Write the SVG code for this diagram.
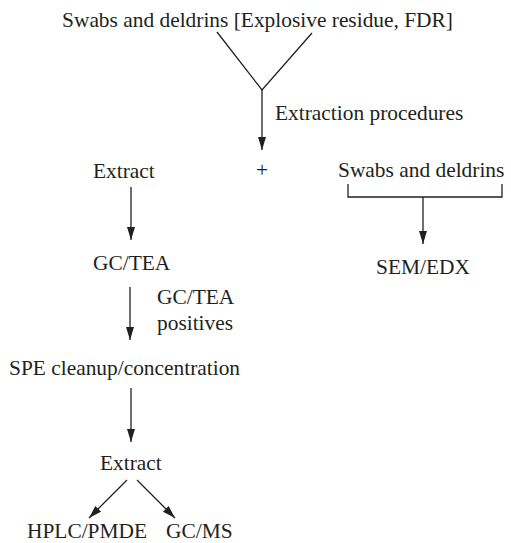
<svg xmlns="http://www.w3.org/2000/svg" width="511" height="543" viewBox="0 0 511 543">
<style>
text{font-family:"Liberation Serif","Times New Roman",serif;font-size:21.4px;fill:#231f20}
.c{stroke:#231f20;stroke-width:1.3;fill:none}
.a{marker-end:url(#ah)}
</style>
<defs>
<marker id="ah" markerUnits="userSpaceOnUse" markerWidth="14" markerHeight="9" refX="13" refY="4" orient="auto">
<path d="M0,0 L13,4 L0,8 z" fill="#231f20"/>
</marker>
</defs>
<rect width="511" height="543" fill="#fff"/>
<g id="connectors">
<path class="c" d="M217,32 L262,90 L312,33"/>
<path class="c a" d="M262,90 V150"/>
<path class="c a" d="M131,187 V240"/>
<path class="c" d="M348,184 V197 H502 V184"/>
<path class="c a" d="M423,197 V244"/>
<path class="c a" d="M130,287 V340"/>
<path class="c a" d="M131,388 V442"/>
<path class="c a" d="M127,480 L89,518"/>
<path class="c a" d="M137,480 L175,518"/>
</g>
<g id="title"><text x="257.5" y="27" text-anchor="middle">Swabs and deldrins [Explosive residue, FDR]</text></g>
<g id="extraction-label"><text x="275" y="120">Extraction procedures</text></g>
<g id="extract1"><text x="93" y="178">Extract</text></g>
<g id="plus"><text x="262" y="177" text-anchor="middle">+</text></g>
<g id="swabs"><text x="338" y="177">Swabs and deldrins</text></g>
<g id="gctea"><text x="93" y="270">GC/TEA</text></g>
<g id="semedx"><text x="376" y="274">SEM/EDX</text></g>
<g id="gctea-label"><text x="157" y="304">GC/TEA</text><text x="157" y="330">positives</text></g>
<g id="spe"><text x="9" y="375">SPE cleanup/concentration</text></g>
<g id="extract2"><text x="100" y="470">Extract</text></g>
<g id="hplc"><text x="27" y="538">HPLC/PMDE</text></g>
<g id="gcms"><text x="166" y="538">GC/MS</text></g>
</svg>
